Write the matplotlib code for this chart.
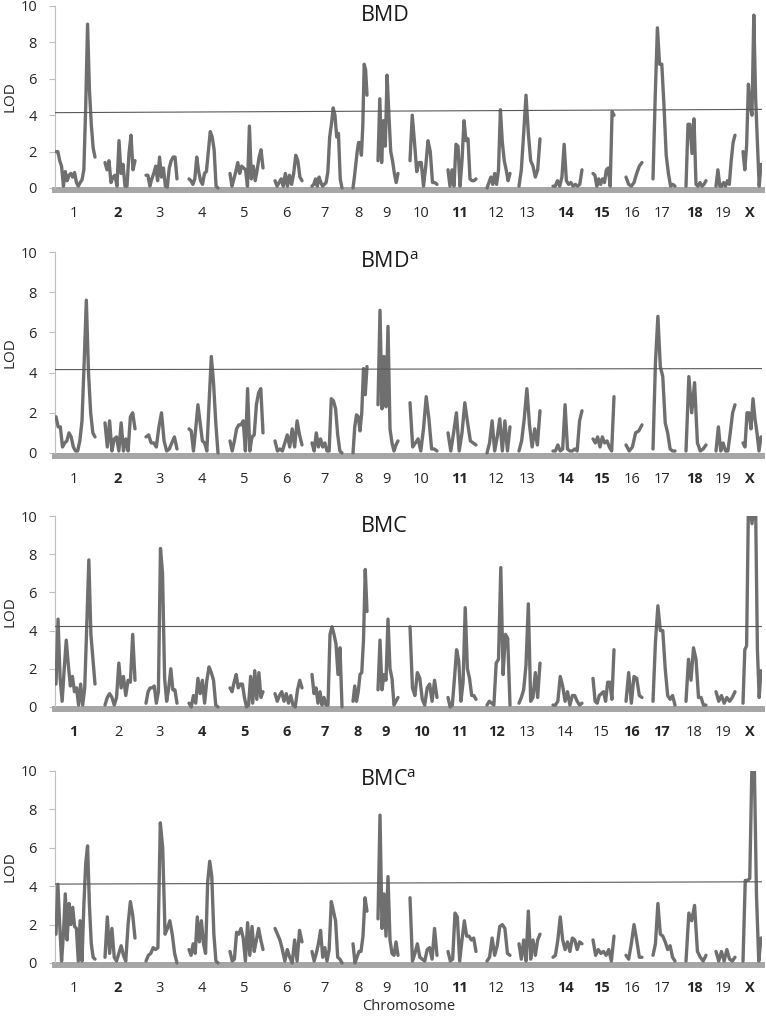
import matplotlib.pyplot as plt
import numpy as np

plt.rcParams['font.family'] = ['Open Sans', 'DejaVu Sans']
plt.rcParams['mathtext.fontset'] = 'custom'
plt.rcParams['mathtext.rm'] = 'Open Sans'

# map of the chromosomes (start and length along the genome axis)
chrom_names = ['1', '2', '3', '4', '5', '6', '7', '8', '9', '10',
               '11', '12', '13', '14', '15', '16', '17', '18', '19', 'X']
chrom_start = [1, 50, 91, 134, 175, 220, 257, 298, 323, 355,
               393, 432, 464, 498, 538, 571, 598, 631, 661, 688]
chrom_len = [39, 30, 31, 29, 33, 27, 30, 14, 20, 27,
             28, 23, 21, 29, 21, 16, 22, 20, 19, 18]

# LOD profiles, one list per chromosome
bmd = [
    [2.0, 2.0, 1.5, 1.2, 0.1, 0.9, 0.4, 0.7, 0.8, 0.6, 0.85, 0.3, 0.1, 0.3, 0.45, 1.0, 4.5, 9.0, 5.4, 3.5, 2.2, 1.7],
    [1.4, 1.0, 1.5, 0.3, 0.6, 0.7, 0.1, 2.6, 0.8, 1.3, 0.1, 0.1, 1.9, 2.9, 1.0, 1.5],
    [0.7, 0.7, 0.1, 0.5, 0.8, 1.2, 0.4, 1.7, 0.6, 1.1, 0.1, 0.05, 1.1, 1.5, 1.7, 1.7, 0.5],
    [0.5, 0.4, 0.2, 0.5, 1.7, 0.9, 0.4, 0.2, 0.8, 0.9, 2.0, 3.1, 2.8, 2.1, 0.1, 0.0],
    [0.8, 0.1, 0.5, 0.9, 1.4, 0.8, 1.2, 1.1, 1.0, 0.1, 3.4, 0.5, 1.2, 0.4, 1.0, 1.7, 2.1, 1.1],
    [0.4, 0.1, 0.3, 0.5, 0.1, 0.8, 0.1, 0.7, 0.2, 0.8, 1.8, 1.5, 0.6, 0.4],
    [0.1, 0.2, 0.5, 0.1, 0.6, 0.3, 0.1, 0.2, 0.3, 0.9, 2.8, 3.5, 4.4, 4.0, 2.8, 3.0, 0.5, 0.0],
    [0.0, 0.6, 1.3, 2.0, 2.5, 2.5, 1.8, 3.4, 6.8, 6.5, 5.1],
    [1.5, 4.9, 1.4, 3.7, 2.3, 6.2, 4.0, 2.0, 1.5, 0.8, 0.3, 0.8],
    [1.5, 4.0, 2.5, 0.9, 1.4, 1.4, 0.1, 1.2, 2.6, 2.0, 0.3, 0.3, 0.2],
    [1.0, 0.1, 1.0, 0.1, 2.4, 2.3, 0.1, 1.5, 3.7, 2.6, 2.7, 0.5, 0.4, 0.4, 0.5],
    [0.0, 0.3, 0.6, 0.2, 0.8, 0.2, 1.0, 4.3, 2.5, 1.5, 1.0, 0.4, 0.8],
    [0.1, 1.0, 3.0, 5.1, 3.0, 1.5, 1.2, 0.6, 1.0, 2.7],
    [0.1, 0.1, 0.4, 0.1, 0.6, 2.4, 0.4, 0.2, 0.3, 0.1, 0.2, 0.1, 0.2, 1.0],
    [0.8, 0.7, 0.1, 0.5, 0.2, 0.5, 0.3, 1.0, 1.1, 0.1, 4.2, 4.0],
    [0.6, 0.2, 0.1, 0.3, 0.8, 1.2, 1.4],
    [0.5, 5.0, 8.8, 6.8, 6.8, 4.5, 1.8, 0.8, 0.1, 0.2, 0.1],
    [0.1, 3.5, 3.5, 1.9, 3.8, 0.2, 0.1, 0.3, 0.1, 0.2, 0.4],
    [0.1, 1.0, 0.1, 0.1, 0.3, 0.1, 0.4, 0.2, 1.5, 2.5, 2.9],
    [2.0, 1.0, 2.3, 5.7, 4.5, 4.0, 9.5, 5.0, 2.5, 0.1, 1.3],
]

bmd_adj = [
    [1.8, 1.3, 1.3, 0.3, 0.5, 0.6, 1.0, 0.8, 0.3, 0.1, 0.1, 0.6, 1.6, 4.5, 7.6, 4.0, 2.0, 1.0, 0.8],
    [1.5, 0.3, 1.6, 0.1, 0.7, 0.8, 0.1, 1.5, 0.1, 0.7, 0.1, 1.8, 2.0, 1.2],
    [0.8, 0.9, 0.5, 0.5, 0.3, 1.3, 2.0, 0.6, 0.1, 0.2, 0.5, 0.8, 0.2],
    [1.2, 1.1, 0.1, 1.2, 2.4, 1.5, 0.6, 0.5, 0.1, 2.5, 4.8, 3.5, 1.5, 0.0],
    [0.6, 0.1, 0.6, 1.2, 1.4, 1.4, 1.6, 0.1, 3.2, 0.1, 0.8, 0.9, 2.4, 3.0, 3.2, 1.0],
    [0.6, 0.1, 0.2, 0.1, 0.5, 0.9, 0.3, 1.2, 0.3, 1.6, 0.9, 0.4],
    [0.5, 0.1, 1.0, 0.3, 0.7, 0.3, 0.5, 0.1, 0.1, 2.7, 2.6, 2.2, 0.9, 0.1, 0.0],
    [0.0, 1.3, 1.9, 1.8, 1.1, 2.0, 4.2, 2.9, 4.3],
    [2.4, 7.1, 2.2, 4.8, 2.3, 6.3, 1.2, 0.5, 0.1, 0.4, 0.6],
    [2.5, 0.3, 0.5, 0.7, 0.1, 1.2, 2.8, 1.7, 0.2, 0.2, 0.1],
    [1.0, 0.1, 1.0, 2.0, 0.1, 1.0, 2.5, 1.5, 0.6, 0.5, 0.4],
    [0.0, 0.5, 1.6, 0.1, 0.8, 1.7, 0.1, 1.6, 0.1, 1.3],
    [0.1, 0.6, 1.7, 3.2, 1.4, 0.3, 1.2, 0.4, 2.1],
    [0.1, 0.1, 0.4, 0.1, 0.2, 2.4, 0.2, 0.1, 0.1, 0.2, 0.1, 1.6, 2.1],
    [0.7, 0.5, 0.8, 0.3, 0.8, 0.5, 0.6, 0.3, 0.1, 2.8],
    [0.4, 0.1, 0.3, 1.0, 1.1, 1.4],
    [0.2, 4.5, 6.8, 4.3, 3.8, 1.5, 1.0, 0.2, 0.1, 0.1],
    [0.1, 3.8, 2.0, 3.5, 0.5, 0.1, 0.2, 0.4],
    [0.1, 1.3, 0.1, 0.5, 0.1, 0.1, 1.0, 2.0, 2.4],
    [0.5, 0.3, 2.0, 2.0, 1.2, 2.7, 1.7, 1.0, 0.1, 0.8],
]

bmc = [
    [1.2, 4.6, 1.5, 0.3, 2.0, 3.5, 2.2, 1.1, 1.6, 0.8, 1.0, 0.1, 1.2, 0.1, 1.0, 4.3, 7.7, 3.8, 2.5, 1.2],
    [0.1, 0.5, 0.7, 0.5, 0.1, 0.5, 2.3, 1.0, 1.6, 0.6, 1.4, 1.3, 3.8, 1.4],
    [0.2, 0.8, 1.0, 1.0, 1.1, 0.2, 0.8, 8.3, 7.0, 1.5, 0.3, 1.0, 2.0, 0.9, 0.9, 0.2],
    [0.2, 0.0, 0.6, 0.2, 1.5, 0.7, 1.4, 0.2, 1.4, 2.1, 1.8, 1.4, 0.1, 0.0],
    [1.0, 0.8, 1.3, 1.7, 1.0, 1.2, 1.2, 0.5, 0.0, 0.1, 1.6, 0.2, 1.9, 0.4, 1.8, 0.5, 0.8],
    [0.7, 0.3, 0.6, 0.8, 0.3, 0.7, 0.2, 0.6, 0.1, 0.0, 0.9, 1.4, 1.0],
    [1.7, 0.7, 1.0, 0.2, 0.8, 0.1, 0.5, 0.1, 0.1, 3.8, 4.2, 3.8, 3.3, 1.7, 3.1, 0.0],
    [0.3, 1.1, 0.3, 0.8, 1.7, 1.8, 3.5, 7.2, 5.0],
    [0.9, 3.5, 0.9, 1.7, 1.4, 4.6, 2.0, 1.5, 0.1, 0.3, 0.5],
    [4.2, 1.0, 0.6, 1.8, 1.5, 0.4, 0.1, 1.0, 1.2, 0.3, 1.4, 0.5],
    [0.5, 0.0, 0.1, 1.5, 3.0, 2.4, 0.3, 1.3, 5.2, 2.0, 1.5, 0.6, 0.6, 0.4],
    [0.1, 0.3, 0.2, 0.1, 2.3, 2.5, 7.3, 1.7, 3.8, 3.6, 0.1],
    [0.2, 0.5, 0.9, 2.2, 5.4, 0.3, 0.5, 1.8, 0.5, 2.3],
    [0.1, 0.1, 0.3, 1.6, 1.1, 0.3, 0.8, 0.1, 0.6, 0.6, 0.3, 0.1, 0.2],
    [1.5, 0.3, 0.2, 0.6, 0.7, 0.8, 0.3, 1.3, 1.3, 0.4, 3.0],
    [0.3, 1.8, 0.2, 1.6, 1.5, 0.6, 0.5],
    [0.3, 3.4, 5.3, 4.0, 4.0, 2.0, 0.6, 0.4, 0.6, 0.1],
    [0.3, 2.5, 1.4, 3.1, 2.5, 0.5, 0.5, 0.1, 0.1],
    [0.8, 0.3, 0.6, 0.2, 0.5, 0.3, 0.5, 0.8],
    [0.2, 3.0, 3.2, 10.5, 10.5, 9.6, 10.5, 10.5, 3.0, 0.5, 1.9],
]

bmc_adj = [
    [1.5, 4.1, 2.0, 0.1, 1.5, 3.6, 1.2, 3.1, 2.0, 2.9, 1.9, 1.8, 0.1, 2.2, 0.1, 3.0, 5.2, 6.1, 3.0, 1.0, 0.3, 0.2],
    [0.3, 2.4, 0.5, 1.8, 0.3, 0.1, 0.5, 0.9, 0.4, 0.1, 2.0, 3.2, 2.5, 1.3],
    [0.1, 0.4, 0.5, 0.8, 0.7, 0.8, 7.3, 6.0, 1.5, 1.8, 2.2, 1.5, 0.5, 0.0],
    [0.7, 0.4, 1.0, 0.5, 2.4, 1.1, 2.2, 1.0, 0.5, 4.2, 5.3, 4.5, 1.5, 0.1, 0.0],
    [0.6, 0.1, 0.2, 1.6, 1.5, 1.8, 1.3, 0.1, 2.1, 0.4, 1.9, 0.6, 1.2, 1.8, 1.2, 0.7],
    [1.8, 1.5, 1.2, 0.7, 0.1, 0.7, 0.3, 0.0, 1.2, 0.1, 1.7, 1.1],
    [0.6, 0.1, 0.5, 1.0, 1.7, 0.3, 0.8, 0.1, 0.7, 3.2, 2.7, 2.2, 0.3, 0.2, 0.0],
    [1.0, 0.0, 0.3, 0.6, 0.6, 1.4, 3.4, 2.7],
    [2.3, 7.7, 1.8, 3.6, 1.4, 4.5, 1.2, 0.5, 0.4, 1.1, 0.4],
    [3.4, 0.1, 0.5, 1.0, 0.3, 0.2, 0.1, 0.7, 0.8, 0.2, 1.8, 0.4],
    [0.6, 0.1, 0.2, 2.6, 2.4, 0.1, 1.2, 2.2, 1.4, 1.4, 1.2, 1.3, 0.6],
    [0.1, 0.3, 1.3, 0.4, 0.9, 1.9, 2.0, 1.8, 0.5, 0.4],
    [1.0, 0.2, 1.2, 0.1, 2.7, 0.2, 1.2, 0.4, 1.2, 1.5],
    [0.3, 0.4, 1.2, 2.4, 1.2, 0.7, 1.1, 0.6, 1.3, 1.2, 0.7, 1.1, 1.0],
    [1.2, 0.4, 0.7, 0.5, 0.6, 0.4, 0.7, 0.1, 1.4],
    [0.4, 0.2, 1.0, 2.0, 1.2, 0.3, 0.3],
    [0.4, 1.0, 3.1, 1.5, 1.4, 1.1, 0.7, 0.9, 0.3, 0.1],
    [0.1, 2.6, 2.2, 3.0, 0.6, 0.3, 0.1, 0.4],
    [0.6, 0.1, 0.6, 0.1, 0.7, 0.2, 0.1, 0.3],
    [0.1, 4.3, 4.3, 4.4, 10.5, 10.5, 3.5, 0.1, 1.3],
]

titles = ['BMD', 'BMD$^{\\mathrm{a}}$', 'BMC', 'BMC$^{\\mathrm{a}}$']
profiles = [bmd, bmd_adj, bmc, bmc_adj]
# significance threshold (drawn from genome start to end)
thr_start = [4.14, 4.15, 4.24, 4.11]
thr_end = [4.32, 4.20, 4.24, 4.23]
bold_labels = [
    ['2', '11', '14', '15', '18', 'X'],
    ['2', '11', '14', '15', '18', 'X'],
    ['1', '4', '5', '6', '7', '8', '9', '10', '11', '12', '16', '17', 'X'],
    ['2', '11', '14', '15', '18', 'X'],
]

W, H = 766, 1018
fig = plt.figure(figsize=(W / 100, H / 100), dpi=100)

# pixel rows of LOD=10 and LOD=0 for each panel
rows = [(6, 188), (252, 453), (516, 707), (771, 963)]
left_px, right_px = 55, 762
ymin = -0.3
genome_end = right_px - left_px

line_col = '#6f6f6f'
for i in range(4):
    top, zero = rows[i]
    scale = (zero - top) / 10.0
    bottom = zero - ymin * scale
    ax = fig.add_axes([left_px / W, 1 - bottom / H,
                       (right_px - left_px) / W, (bottom - top) / H])
    ax.set_xlim(0, genome_end)
    ax.set_ylim(ymin, 10)

    for c in range(len(chrom_names)):
        vals = profiles[i][c]
        x = np.linspace(chrom_start[c], chrom_start[c] + chrom_len[c], len(vals))
        ax.plot(x, vals, color=line_col, lw=2.4, solid_joinstyle='round',
                solid_capstyle='round', zorder=3)

    ax.plot([0, genome_end], [thr_start[i], thr_end[i]], color='#595959', lw=0.8, zorder=4)
    ax.axhline(-0.13, color='#a6a6a6', lw=4.3, zorder=2, clip_on=False)

    for s in ['top', 'right', 'bottom']:
        ax.spines[s].set_visible(False)
    ax.spines['left'].set_color('#bfbfbf')
    ax.spines['left'].set_bounds(0, 10)
    ax.set_yticks([0, 2, 4, 6, 8, 10])
    ax.tick_params(axis='y', length=4, color='#bfbfbf', labelsize=10.5,
                   labelcolor='#262626', pad=9)

    mids = [chrom_start[c] + chrom_len[c] / 2 - 2 for c in range(len(chrom_names))]
    ax.set_xticks(mids)
    ax.set_xticklabels(chrom_names)
    ax.tick_params(axis='x', length=0, labelsize=10.5, labelcolor='#262626', pad=9)
    for lab in ax.get_xticklabels():
        if lab.get_text() in bold_labels[i]:
            lab.set_fontweight('bold')

    ax.set_ylabel('LOD', fontsize=11, color='#262626', va='center')
    ax.yaxis.set_label_coords(-45 / (right_px - left_px), (5 - ymin) / (10 - ymin))
    ax.annotate(titles[i], xy=(0.432, 1), xycoords='axes fraction',
                xytext=(0, -10), textcoords='offset pixels',
                ha='left', va='center', fontsize=15.5, color='#1a1a1a')

fig.text(409 / W, 1 - 1006 / H, 'Chromosome', ha='center', va='center',
         fontsize=10.5, color='#262626')

fig.savefig('out.png', dpi=100)
